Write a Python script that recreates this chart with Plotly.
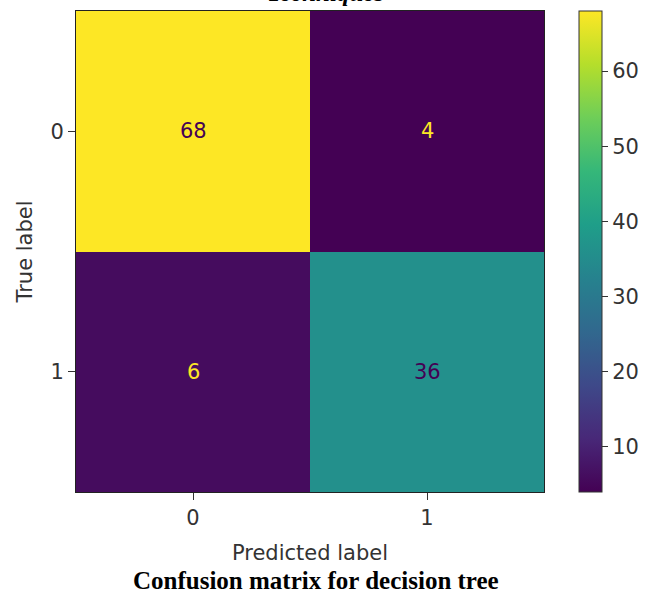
import plotly.graph_objects as go

# Confusion matrix counts: rows = true label, columns = predicted label
class_labels = [0, 1]
counts = [[68, 4],
          [6, 36]]
cbar_ticks = [10, 20, 30, 40, 50, 60]

zmin = min(min(r) for r in counts)
zmax = max(max(r) for r in counts)
thresh = (zmin + zmax) / 2.0
VIRIDIS_LOW = "#440154"
VIRIDIS_HIGH = "#fde725"

SANS = "DejaVu Sans"
FS = 21
TXT = "#333333"

fig = go.Figure()
fig.add_trace(go.Heatmap(
    z=counts,
    x=class_labels,
    y=class_labels,
    colorscale="Viridis",
    zmin=zmin,
    zmax=zmax,
    showscale=True,
    colorbar=dict(
        thickness=23,
        thicknessmode="pixels",
        len=1.0,
        lenmode="fraction",
        x=1.075,
        xanchor="left",
        y=0.5,
        yanchor="middle",
        xpad=0,
        ypad=0,
        outlinewidth=1,
        outlinecolor="#333333",
        tickvals=cbar_ticks,
        ticks="outside",
        ticklen=6,
        tickcolor="#333333",
        tickfont=dict(family=SANS, size=FS, color=TXT),
    ),
))

# Cell value labels, colored for contrast like sklearn's ConfusionMatrixDisplay
for i, row in enumerate(counts):
    for j, v in enumerate(row):
        fig.add_annotation(
            x=class_labels[j], y=class_labels[i], text=str(v),
            showarrow=False, xref="x", yref="y",
            font=dict(family=SANS, size=FS,
                      color=VIRIDIS_HIGH if v < thresh else VIRIDIS_LOW),
        )

# Caption below the chart and partially visible heading above it
fig.add_annotation(
    text="<b>Confusion matrix for decision tree</b>",
    x=0.512, y=-0.184, xref="paper", yref="paper",
    showarrow=False, xanchor="center", yanchor="middle",
    font=dict(family="Liberation Serif", size=25, color="black"),
)
fig.add_annotation(
    text="<b><i>Techniques</i></b>",
    x=0.534, y=1.039, xref="paper", yref="paper",
    showarrow=False, xanchor="center", yanchor="middle",
    font=dict(family="Liberation Serif", size=25, color="black"),
)

axis_common = dict(
    showgrid=False, zeroline=False,
    showline=True, linecolor="#222222", linewidth=1, mirror=True,
    ticks="outside", ticklen=7, tickcolor="#333333",
    tickfont=dict(family=SANS, size=FS, color=TXT),
    tickmode="array", tickvals=class_labels,
    ticktext=[str(c) for c in class_labels],
)

fig.update_layout(
    width=646, height=592,
    margin=dict(l=76, r=102, t=11, b=100, autoexpand=False),
    paper_bgcolor="white",
    plot_bgcolor="white",
    xaxis=dict(
        **axis_common, range=[-0.5, 1.5],
        title=dict(text="Predicted label", standoff=16,
                   font=dict(family=SANS, size=FS, color=TXT)),
    ),
    yaxis=dict(
        **axis_common, range=[1.5, -0.5],
        title=dict(text="True label", standoff=12,
                   font=dict(family=SANS, size=FS, color=TXT)),
    ),
)

fig.write_html("out.html")
